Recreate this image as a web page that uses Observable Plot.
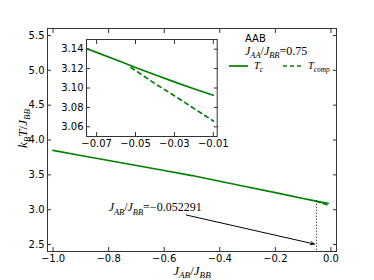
<!DOCTYPE html>
<html><head><meta charset="utf-8">
<script src="https://cdn.jsdelivr.net/npm/d3@7"></script>
<script src="https://cdn.jsdelivr.net/npm/@observablehq/plot@0.6"></script>
<style>
body{margin:0;background:#fff;}
#wrap{position:relative;width:374px;height:280px;overflow:hidden;}
#wrap svg{position:absolute;max-width:none;}
</style></head><body><div id="wrap"></div>
<script>
// ---- data ----
const tcX = [-1.0,-0.9,-0.8,-0.7,-0.6,-0.5,-0.4,-0.3,-0.2,-0.1,-0.075,-0.0625,-0.05,-0.04,-0.03,-0.02,-0.01];
const tcY = [3.850,3.778,3.706,3.634,3.562,3.490,3.408,3.326,3.244,3.160,3.1405,3.131,3.1212,3.1136,3.1063,3.0992,3.0925];
const tcompX = [-0.052291,-0.04,-0.03,-0.02,-0.01];
const tcompY = [3.1212,3.1045,3.092,3.079,3.066];
const critX = [-0.052291];
const critY = [3.1212];
const annX = [-0.8];
const annY = [3.03];
const annLabel = ["J_{AB}/J_{BB}=\u22120.052291"];
const arrowFrom = [-0.521, 2.924];
const arrowTo = [-0.0597, 2.507];
const xDomain = [-1.02, 0.02];
const yDomain = [2.4, 5.6];
const xTicks = [-1.0,-0.8,-0.6,-0.4,-0.2,0.0];
const yTicks = [2.5,3.0,3.5,4.0,4.5,5.0,5.5];
const insetXDomain = [-0.0752, -0.008];
const insetYDomain = [3.05, 3.15];
const insetXTicks = [-0.07,-0.05,-0.03,-0.01];
const insetYTicks = [3.06,3.08,3.10,3.12,3.14];
const xLabel = ["J_{AB}/J_{BB}"];
const yLabel = ["k_{B}T/J_{BB}"];
const legendTitle = "AAB";
const legendSub = "J_{AA}/J_{BB}=0.75";
const seriesNames = ["T_{c}", "T_{comp}"];

const GREEN = "#008000";
const FRAME = "#333";
const MATH = "'Liberation Serif', serif";
const tc = tcX.map((x,i)=>({x, y: tcY[i]}));
const tcomp = tcompX.map((x,i)=>({x, y: tcompY[i]}));
const crit = critX.map((x,i)=>({x, y: critY[i]}));
const ann = annX.map((x,i)=>({x, y: annY[i], t: annLabel[i]}));

const wrap = document.getElementById("wrap");

const main = Plot.plot({
  width: 374, height: 280,
  marginLeft: 47, marginRight: 38, marginTop: 28, marginBottom: 29,
  style: {fontFamily: "'DejaVu Sans', sans-serif", fontSize: "10px", color: "black", background: "white", overflow: "visible"},
  x: {domain: xDomain},
  y: {domain: yDomain},
  marks: [
    Plot.line(tc, {x: "x", y: "y", stroke: GREEN, strokeWidth: 1.7}),
    Plot.line(tcomp, {x: "x", y: "y", stroke: GREEN, strokeWidth: 1.7, strokeDasharray: "4,3"}),
    Plot.ruleX(crit, {x: "x", y1: "y", y2: () => yDomain[0], stroke: "black", strokeWidth: 1, strokeDasharray: "1,2"}),
    Plot.arrow([{x1: arrowFrom[0], y1: arrowFrom[1], x2: arrowTo[0], y2: arrowTo[1]}],
      {x1: "x1", y1: "y1", x2: "x2", y2: "y2", stroke: "black", strokeWidth: 1, headLength: 6, headAngle: 45}),
    Plot.text(ann, {x: "x", y: "y", text: "t", textAnchor: "start", lineAnchor: "middle", fontFamily: MATH, fontSize: 12, fill: "black"}),
    Plot.axisX({ticks: xTicks, anchor: "bottom", tickSize: -4, tickPadding: 7, tickFormat: ".1f", label: null, stroke: FRAME}),
    Plot.axisX({ticks: xTicks, anchor: "top", tickSize: -4, tickFormat: () => "", label: null, stroke: FRAME}),
    Plot.axisY({ticks: yTicks, anchor: "left", tickSize: -4, tickPadding: 7, tickFormat: ".1f", label: null, stroke: FRAME}),
    Plot.axisY({ticks: yTicks, anchor: "right", tickSize: -4, tickFormat: () => "", label: null, stroke: FRAME}),
    Plot.frame({stroke: FRAME, strokeWidth: 1}),
    Plot.text(xLabel, {frameAnchor: "bottom", text: d => d, dy: 19, lineAnchor: "middle", fontFamily: MATH, fontSize: 13, fill: "black"}),
    Plot.text(yLabel, {frameAnchor: "left", text: d => d, dx: -25, dy: 8, rotate: -90, lineAnchor: "middle", fontFamily: MATH, fontSize: 13, fill: "black"})
  ]
});
main.style.left = "0px"; main.style.top = "0px";
wrap.appendChild(main);

const inset = Plot.plot({
  width: 180, height: 125,
  marginLeft: 40, marginRight: 9.3, marginTop: 9, marginBottom: 19,
  style: {fontFamily: "'DejaVu Sans', sans-serif", fontSize: "10px", color: "black", background: "transparent", overflow: "visible"},
  x: {domain: insetXDomain},
  y: {domain: insetYDomain},
  marks: [
    Plot.frame({fill: "white", stroke: "none"}),
    Plot.line(tc, {x: "x", y: "y", stroke: GREEN, strokeWidth: 1.7, curve: "monotone-x", clip: true}),
    Plot.line(tcomp, {x: "x", y: "y", stroke: GREEN, strokeWidth: 1.7, strokeDasharray: "4,4", clip: true}),
    Plot.axisX({ticks: insetXTicks, anchor: "bottom", tickSize: -4, tickPadding: 7, tickFormat: ".2f", label: null, stroke: FRAME}),
    Plot.axisX({ticks: insetXTicks, anchor: "top", tickSize: -4, tickFormat: () => "", label: null, stroke: FRAME}),
    Plot.axisY({ticks: insetYTicks, anchor: "left", tickSize: -4, tickPadding: 7, tickFormat: ".2f", label: null, stroke: FRAME}),
    Plot.axisY({ticks: insetYTicks, anchor: "right", tickSize: -4, tickFormat: () => "", label: null, stroke: FRAME}),
    Plot.frame({stroke: FRAME, strokeWidth: 1})
  ]
});
inset.style.left = "46px"; inset.style.top = "30px";
wrap.appendChild(inset);

// legend
const NS = "http://www.w3.org/2000/svg";
const leg = d3.create("svg").attr("width", 374).attr("height", 280)
  .style("left", "0px").style("top", "0px").style("pointer-events", "none");
leg.append("text").attr("x", 245).attr("y", 41.5).attr("font-family", "'DejaVu Sans', sans-serif").attr("font-size", 10).text(legendTitle);
leg.append("text").attr("x", 245).attr("y", 55).attr("font-family", MATH).attr("font-size", 12).text(legendSub);
leg.append("line").attr("x1", 229).attr("x2", 248).attr("y1", 66).attr("y2", 66).attr("stroke", GREEN).attr("stroke-width", 1.7);
leg.append("text").attr("x", 254).attr("y", 69).attr("font-family", MATH).attr("font-size", 10.5).text(seriesNames[0]);
leg.append("line").attr("x1", 283).attr("x2", 302).attr("y1", 66).attr("y2", 66).attr("stroke", GREEN).attr("stroke-width", 1.7).attr("stroke-dasharray", "4,3");
leg.append("text").attr("x", 308).attr("y", 69).attr("font-family", MATH).attr("font-size", 10.5).text(seriesNames[1]);
wrap.appendChild(leg.node());

// math subscripts & italics
function subify(el) {
  const s = el.textContent;
  if (!s.includes("_{")) return;
  const fs = parseFloat(getComputedStyle(el).fontSize) || 12;
  while (el.firstChild) el.removeChild(el.firstChild);
  const re = /_\{([^}]*)\}|([^_]+)/g; let m; const toks = [];
  while ((m = re.exec(s))) toks.push(m[1] !== undefined ? {t: m[1], sub: true} : {t: m[2], sub: false});
  let cur = 0;
  for (const tok of toks) {
    const runs = tok.t.match(/[A-Za-z]+|[^A-Za-z]+/g) || [];
    for (const r of runs) {
      const ts = document.createElementNS(NS, "tspan");
      ts.textContent = r;
      if (/[A-Za-z]/.test(r)) ts.setAttribute("font-style", "italic");
      const target = tok.sub ? fs * 0.28 : 0;
      if (target !== cur) { ts.setAttribute("dy", (target - cur).toFixed(2)); cur = target; }
      if (tok.sub) ts.setAttribute("font-size", (fs * 0.7).toFixed(2));
      el.appendChild(ts);
    }
  }
}
wrap.querySelectorAll("text").forEach(subify);
</script>
</body></html>
